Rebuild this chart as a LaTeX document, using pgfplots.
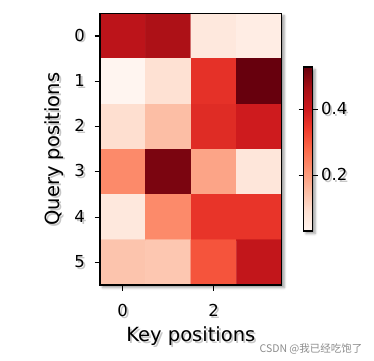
\documentclass[border=0pt]{standalone}
\usepackage{pgfplots}
\pgfplotsset{compat=1.18}
\usepackage{fontspec}
\setmainfont{DejaVu Sans}
\newfontfamily\cjk{Noto Sans CJK SC}
\usetikzlibrary{shadows.blur}
\newcommand\sh[1]{\makebox[0pt][l]{\hspace{1.8pt}\raisebox{-1.8pt}{\textcolor{black!22}{#1}}}#1}
\newcommand\shr[1]{\makebox[0pt][l]{\hspace{-1.8pt}\raisebox{-1.8pt}{\textcolor{black!22}{#1}}}#1}
\pgfplotstableread{
x y c
0 0 0.430
1 0 0.455
2 0 0.070
3 0 0.055
0 1 0.030
1 1 0.090
2 1 0.360
3 1 0.530
0 2 0.095
1 2 0.150
2 2 0.370
3 2 0.400
0 3 0.230
1 3 0.510
2 3 0.190
3 3 0.075
0 4 0.070
1 4 0.230
2 4 0.355
3 4 0.355
0 5 0.140
1 5 0.135
2 5 0.310
3 5 0.420
}\attn
\begin{document}
\begin{tikzpicture}[x=1pt,y=1pt]
\path[use as bounding box] (0,0) rectangle (374,360);
\begin{axis}[
  at={(100pt,75pt)}, anchor=south west,
  scale only axis, width=181.7pt, height=271.7pt,
  axis on top,
  xmin=-0.5, xmax=3.5, ymin=-0.5, ymax=5.5, y dir=reverse,
  xtick={0,2}, ytick={0,1,2,3,4,5},
  xticklabel={\sh{\pgfmathprintnumber{\tick}}},
  yticklabel={\sh{\pgfmathprintnumber{\tick}}},
  tick align=outside, xtick pos=left, ytick pos=left,
  major tick length=5.5pt,
  tick style={black, line width=1.1pt},
  axis line style={line width=1.2pt},
  /pgf/number format/assume math mode=true,
  ticklabel style={font=\fontsize{16.5}{18}\selectfont},
  xticklabel style={yshift=-10pt},
  yticklabel style={xshift=-6pt},
  xlabel={\sh{Key positions}}, ylabel={\shr{Query positions}},
  xlabel style={font=\fontsize{19.5}{22}\selectfont, at={(axis description cs:0.5,-0.208)}, anchor=base},
  ylabel style={font=\fontsize{19.5}{22}\selectfont, at={(axis description cs:-0.2477,0.5)}, anchor=center, rotate=0},
  axis background/.style={fill=white, blur shadow={shadow xshift=2.5pt, shadow yshift=-2.5pt, shadow blur radius=2.5pt, shadow opacity=40}},
  colormap={reds}{rgb255=(255,245,240) rgb255=(254,224,210) rgb255=(252,187,161) rgb255=(252,146,114) rgb255=(251,106,74) rgb255=(239,59,44) rgb255=(203,24,29) rgb255=(165,15,21) rgb255=(103,0,13)},
  point meta min=0.03, point meta max=0.53,
  colorbar,
  colorbar style={
    at={(parent axis.south east)}, anchor=south west, xshift=13.3pt, yshift=54pt,
    scale only axis, width=9pt, height=164pt,
    axis on top,
    ytick={0.2,0.4},
    yticklabel={\sh{\pgfmathprintnumber[fixed,fixed zerofill,precision=1]{\tick}}},
    yticklabel style={font=\fontsize{16.5}{18}\selectfont},
    /pgf/number format/assume math mode=true,
    tick align=outside, major tick length=5pt,
    tick style={black, line width=1.1pt},
    axis line style={line width=1.2pt},
    axis background/.style={fill=white, blur shadow={shadow xshift=2.5pt, shadow yshift=-2.5pt, shadow blur radius=2.5pt, shadow opacity=40}},
  },
]
\addplot[matrix plot*, mesh/cols=4, mesh/rows=6, point meta=explicit] table[meta=c] {\attn};
\end{axis}
\node[anchor=base, text=black!45, font=\cjk\fontsize{10.5}{12}\selectfont] at (311,8) {CSDN @我已经吃饱了};
\end{tikzpicture}
\end{document}
